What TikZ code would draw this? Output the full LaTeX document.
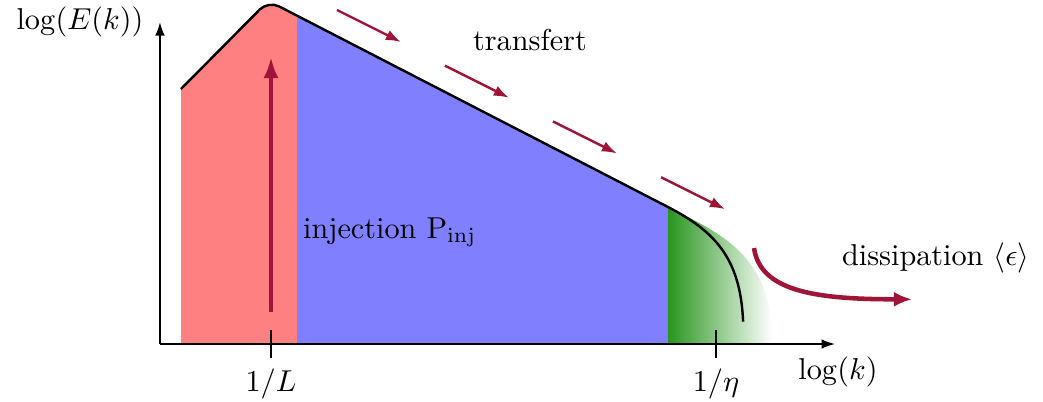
\documentclass[tikz,border=0pt]{standalone}
\usepackage{amsmath, amssymb}
\usepackage{tikz}
\usetikzlibrary{arrows.meta,calc,positioning}
\definecolor{flowred}{RGB}{160,20,55}
\definecolor{dissgreen}{RGB}{40,150,30}

\begin{document}
\begin{tikzpicture}[
    flow/.style={flowred, line width=0.8pt, -{Latex[length=5pt,width=3.6pt]}},
    axis/.style={semithick, -{Latex[length=4.5pt,width=3.2pt]}}
  ]
  \useasboundingbox (-1.86,-0.663) rectangle (10.267,4.0);
  % Spectrum points
  \coordinate (kstart) at (0.244,2.965);
  \coordinate (kpeak) at (1.26,3.99);
  \coordinate (keta) at (5.907,1.593);
  \coordinate (kend) at (6.78,0.26);

  % Coloured ranges below the spectrum
  \begin{scope}
    \clip (0.244,0) -- (kstart) [rounded corners=4pt] -- (kpeak) [sharp corners] -- (keta)
      .. controls (6.45,1.31) and (6.75,1.0) .. (kend) -- (6.78,0) -- cycle;
    \fill[red!50] (0.244,0) rectangle (1.593,4);
    \fill[blue!50] (1.593,0) rectangle (5.907,4);
  \end{scope}
  \shade[left color=dissgreen, right color=white]
    (5.907,0) -- (keta) .. controls (6.6,1.25) and (7.12,1.0) .. (7.12,0) -- cycle;

  % Spectrum
  \draw[thick] (kstart) [rounded corners=4pt] -- (kpeak) [sharp corners] -- (keta)
    .. controls (6.45,1.31) and (6.75,1.0) .. (kend);

  % Axes
  \coordinate (O) at (0,0);
  \coordinate (xend) at (7.85,0);
  \coordinate (yend) at (0,3.744);
  \draw[axis] (O) -- (xend);
  \draw[axis] (O) -- (yend);
  \node (xlab) at (7.884,-0.33) {$\log(k)$};
  \node (ylab) at (-0.93,3.744) {$\log(E(k))$};

  % Ticks
  \draw[semithick] (1.291,0.163) -- (1.291,-0.163) node[below] (tL) {$1/L$};
  \draw[semithick] (6.465,0.163) -- (6.465,-0.163) node[below] (teta) {$1/\eta$};

  % Injection
  \coordinate (inja) at (1.291,0.372);
  \coordinate (injb) at (1.291,3.337);
  \draw[flowred, line width=1.3pt, -{Latex[length=7pt,width=5pt]}] (inja) -- (injb);
  \node[right] (inj) at (1.54,1.302) {injection $\mathrm{P}_{\mathrm{inj}}$};

  % Transfer
  \foreach \i in {0,...,3} {
    \coordinate (ta\i) at ($(2.058,3.884)+\i*(1.256,-0.648)$);
    \coordinate (tb\i) at ($(2.802,3.512)+\i*(1.256,-0.648)$);
    \draw[flow] (ta\i) -- (tb\i);
  }
  \node (trans) at (4.302,3.535) {transfert};

  % Dissipation
  \coordinate (da) at (6.907,1.116);
  \coordinate (db) at (8.744,0.52);
  \draw[flowred, line width=1.5pt, -{Latex[length=6pt,width=5pt]}]
    (da) .. controls (6.98,0.62) and (7.6,0.52) .. (db);
  \node (diss) at (9.02,1.0) {dissipation $\langle\epsilon\rangle$};
\end{tikzpicture}
\end{document}
